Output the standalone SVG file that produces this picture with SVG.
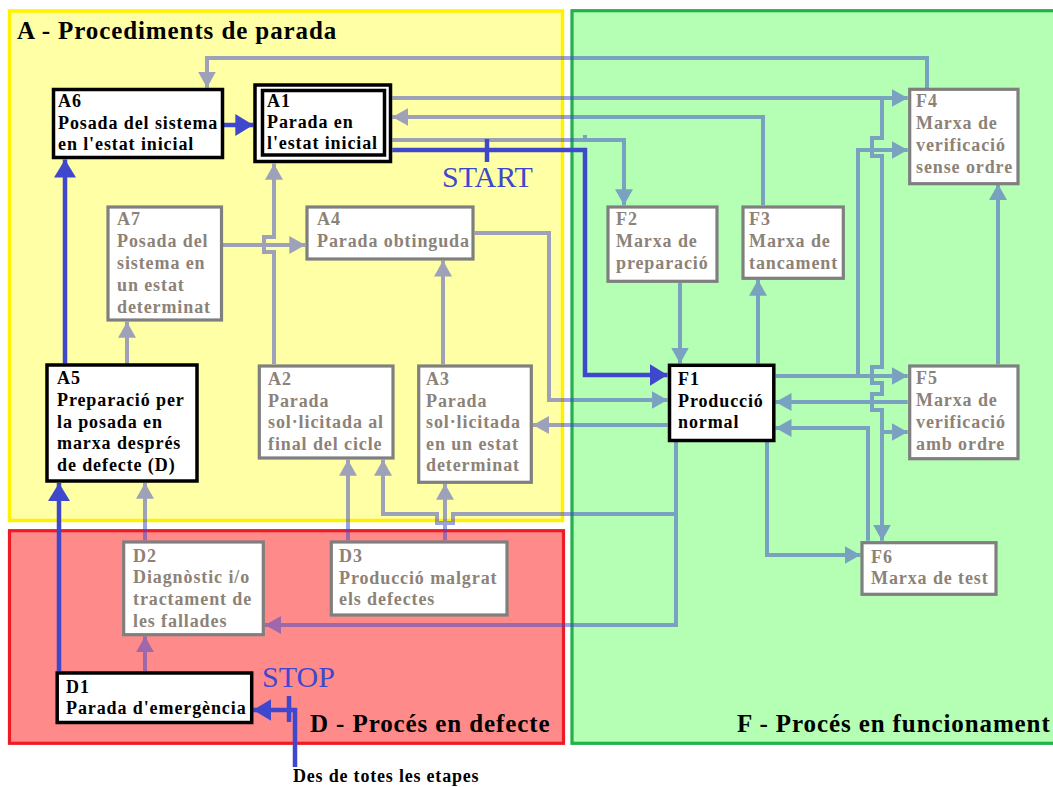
<svg xmlns="http://www.w3.org/2000/svg" width="1053" height="787" viewBox="0 0 1053 787">
  <style>
    .zone-title{font-family:"Liberation Serif","Times New Roman",serif;font-weight:bold;font-size:25px;letter-spacing:0.9px;fill:#000}
    .node rect{fill:#fff}
    .active rect{stroke:#000;stroke-width:3.5}
    .idle rect{stroke:#7f7f7f;stroke-width:3.2}
    .node text{font-family:"Liberation Serif","Times New Roman",serif;font-weight:bold;font-size:18px;letter-spacing:0.9px}
    .active text{fill:#000}
    .idle text{fill:#8c8278}
    .link{fill:none;stroke:#3f48cc;stroke-width:4}
    .main{fill:none;stroke:#3f48cc;stroke-width:4.5}
    .signal{font-family:"Liberation Serif","Times New Roman",serif;font-size:30px;fill:#3f48cc}
    .note{font-family:"Liberation Serif","Times New Roman",serif;font-weight:bold;font-size:18px;letter-spacing:0.8px;fill:#000}
  </style>
  <defs>
    <marker id="ah" markerUnits="userSpaceOnUse" markerWidth="17" markerHeight="18" refX="16" refY="9" orient="auto">
      <path d="M0,0 L16,9 L0,18 Z" fill="#3f48cc"/>
    </marker>
    <marker id="ahMain" markerUnits="userSpaceOnUse" markerWidth="19" markerHeight="22" refX="18" refY="11" orient="auto">
      <path d="M0,0 L18,11 L0,22 Z" fill="#3f48cc"/>
    </marker>
  </defs>

  <rect width="1053" height="787" fill="#fff"/>

  <!-- zones -->
  <g id="zones">
    <rect x="9.5" y="11" width="553" height="509.5" fill="#ffffa6" stroke="#fff200" stroke-width="3.5"/>
    <rect x="572" y="10.7" width="500" height="732.6" fill="#b4ffb4" stroke="#22b14c" stroke-width="3.2"/>
    <rect x="9.5" y="530.7" width="554" height="212.6" fill="#ff8a8a" stroke="#ed1c24" stroke-width="3.2"/>
    <text class="zone-title" x="17" y="39">A - Procediments de parada</text>
    <text class="zone-title" x="310" y="732">D - Procés en defecte</text>
    <text class="zone-title" x="737" y="732">F - Procés en funcionament</text>
  </g>

  <!-- connectors -->
  <g id="connectors">
    <g opacity="0.5">
      <path class="link" marker-end="url(#ah)" d="M927,88 V58 H207 V87.7"/>
      <path class="link" marker-end="url(#ah)" d="M392.3,98 H907.7"/>
      <path class="link" marker-end="url(#ah)" d="M882,98 V138 H872 V156 H882 V367 H872 V383 H882 V394 H872 V410 H882 V540.7"/>
      <path class="link" marker-end="url(#ah)" d="M882,432 H907.7"/>
      <path class="link" marker-end="url(#ah)" d="M775.5,376 H907.7"/>
      <path class="link" marker-end="url(#ah)" d="M858,376 V150 H907.7"/>
      <path class="link" marker-end="url(#ah)" d="M907.7,402 H775.5"/>
      <path class="link" marker-end="url(#ah)" d="M868,540.7 V428 H775.5"/>
      <path class="link" marker-end="url(#ah)" d="M998,364.3 V184"/>
      <path class="link" marker-end="url(#ah)" d="M758,363.5 V279.8"/>
      <path class="link" marker-end="url(#ah)" d="M680,283 V363.5"/>
      <path class="link" marker-end="url(#ah)" d="M763,205.3 V117 H392.3"/>
      <path class="link" marker-end="url(#ah)" d="M392.3,140 H624 V205.3"/>
      <path class="link" d="M585,135 V140"/>
      <path class="link" marker-end="url(#ah)" d="M274,364 V252 H264 V237 H274 V163.7"/>
      <path class="link" marker-end="url(#ah)" d="M223,245 H305.3"/>
      <path class="link" marker-end="url(#ah)" d="M127,363.7 V321.7"/>
      <path class="link" marker-end="url(#ah)" d="M474.7,233 H549 V400 H667.5"/>
      <path class="link" marker-end="url(#ah)" d="M667.5,425 H533"/>
      <path class="link" marker-end="url(#ah)" d="M443,364.3 V260.5"/>
      <path class="link" marker-end="url(#ah)" d="M348,540.3 V459.7"/>
      <path class="link" marker-end="url(#ah)" d="M445,540.3 V483.8"/>
      <path class="link" marker-end="url(#ah)" d="M676,442 V625 H265"/>
      <path class="link" marker-end="url(#ah)" d="M676,514 H453 V523 H437 V514 H383 V459.7"/>
      <path class="link" marker-end="url(#ah)" d="M145,671.3 V636.3"/>
      <path class="link" marker-end="url(#ah)" d="M145,540.3 V482.8"/>
      <path class="link" marker-end="url(#ah)" d="M767,442 V555 H860.5"/>
    </g>
    <path class="main" marker-end="url(#ahMain)" d="M59,671.3 V483"/>
    <path class="main" marker-end="url(#ahMain)" d="M65,363.5 V159.5"/>
    <path class="main" marker-end="url(#ahMain)" d="M224,125 H253.3"/>
    <path class="main" marker-end="url(#ahMain)" d="M392.3,150 H585 V375 H667.5"/>
    <path class="main" d="M487,139 V162"/>
    <text class="signal" x="442" y="187">START</text>
    <path class="main" marker-end="url(#ahMain)" d="M295,767 V710 H253.3"/>
    <path class="main" d="M289,696 V722"/>
    <text class="signal" x="262" y="687">STOP</text>
    <text class="note" x="293" y="782">Des de totes les etapes</text>
  </g>

  <!-- A: stop procedures -->
  <g id="A6" class="node active">
    <rect x="53.5" y="89.5" width="169" height="68"/>
    <text x="58"><tspan x="58" y="107">A6</tspan><tspan x="58" y="128.5">Posada del sistema</tspan><tspan x="58" y="150">en l'estat inicial</tspan></text>
  </g>
  <g id="A1" class="node active">
    <rect x="255" y="85" width="135.5" height="76.5" stroke-width="4"/>
    <rect x="262.5" y="90.5" width="122" height="64.5" stroke-width="3"/>
    <text x="267"><tspan x="267" y="107">A1</tspan><tspan x="267" y="128">Parada en</tspan><tspan x="267" y="149">l'estat inicial</tspan></text>
  </g>
  <g id="A7" class="node idle">
    <rect x="108" y="207" width="113.5" height="113"/>
    <text x="117"><tspan x="117" y="225">A7</tspan><tspan x="117" y="247">Posada del</tspan><tspan x="117" y="269">sistema en</tspan><tspan x="117" y="291">un estat</tspan><tspan x="117" y="313">determinat</tspan></text>
  </g>
  <g id="A4" class="node idle">
    <rect x="307" y="207" width="166" height="52"/>
    <text x="317"><tspan x="317" y="225">A4</tspan><tspan x="317" y="247">Parada obtinguda</tspan></text>
  </g>
  <g id="A5" class="node active">
    <rect x="47" y="365" width="150" height="116"/>
    <text x="57"><tspan x="57" y="384">A5</tspan><tspan x="57" y="406">Preparació per</tspan><tspan x="57" y="427.5">la posada en</tspan><tspan x="57" y="449">marxa després</tspan><tspan x="57" y="470.5">de defecte (D)</tspan></text>
  </g>
  <g id="A2" class="node idle">
    <rect x="259.3" y="366" width="133.7" height="92"/>
    <text x="268"><tspan x="268" y="385">A2</tspan><tspan x="268" y="406.5">Parada</tspan><tspan x="268" y="428">sol·licitada al</tspan><tspan x="268" y="449.5">final del cicle</tspan></text>
  </g>
  <g id="A3" class="node idle">
    <rect x="418.7" y="366" width="112.6" height="116.3"/>
    <text x="426"><tspan x="426" y="385">A3</tspan><tspan x="426" y="406.5">Parada</tspan><tspan x="426" y="428">sol·licitada</tspan><tspan x="426" y="449.5">en un estat</tspan><tspan x="426" y="471">determinat</tspan></text>
  </g>

  <!-- F: running process -->
  <g id="F1" class="node active">
    <rect x="669.5" y="365.3" width="104.3" height="75.2"/>
    <text x="678"><tspan x="678" y="385">F1</tspan><tspan x="678" y="406.5">Producció</tspan><tspan x="678" y="428">normal</tspan></text>
  </g>
  <g id="F2" class="node idle">
    <rect x="608" y="207" width="109" height="74.3"/>
    <text x="616"><tspan x="616" y="225">F2</tspan><tspan x="616" y="247">Marxa de</tspan><tspan x="616" y="268.5">preparació</tspan></text>
  </g>
  <g id="F3" class="node idle">
    <rect x="743" y="207" width="100.3" height="71.3"/>
    <text x="749"><tspan x="749" y="225">F3</tspan><tspan x="749" y="247">Marxa de</tspan><tspan x="749" y="268.5">tancament</tspan></text>
  </g>
  <g id="F4" class="node idle">
    <rect x="909.7" y="89.3" width="108.3" height="94.4"/>
    <text x="916"><tspan x="916" y="107">F4</tspan><tspan x="916" y="129">Marxa de</tspan><tspan x="916" y="151">verificació</tspan><tspan x="916" y="173">sense ordre</tspan></text>
  </g>
  <g id="F5" class="node idle">
    <rect x="909.7" y="366" width="108.3" height="92.7"/>
    <text x="916"><tspan x="916" y="384">F5</tspan><tspan x="916" y="406">Marxa de</tspan><tspan x="916" y="428">verificació</tspan><tspan x="916" y="450">amb ordre</tspan></text>
  </g>
  <g id="F6" class="node idle">
    <rect x="862" y="542.7" width="134" height="51.6"/>
    <text x="871"><tspan x="871" y="562.5">F6</tspan><tspan x="871" y="584">Marxa de test</tspan></text>
  </g>

  <!-- D: faulty process -->
  <g id="D2" class="node idle">
    <rect x="123.7" y="542" width="139.6" height="92.7"/>
    <text x="133"><tspan x="133" y="561.5">D2</tspan><tspan x="133" y="583">Diagnòstic i/o</tspan><tspan x="133" y="605">tractament de</tspan><tspan x="133" y="626.5">les fallades</tspan></text>
  </g>
  <g id="D3" class="node idle">
    <rect x="331.3" y="542" width="175.7" height="73"/>
    <text x="339"><tspan x="339" y="562">D3</tspan><tspan x="339" y="583.5">Producció malgrat</tspan><tspan x="339" y="605">els defectes</tspan></text>
  </g>
  <g id="D1" class="node active">
    <rect x="57.2" y="673" width="194.5" height="49.5"/>
    <text x="66"><tspan x="66" y="693">D1</tspan><tspan x="66" y="714">Parada d'emergència</tspan></text>
  </g>
</svg>
